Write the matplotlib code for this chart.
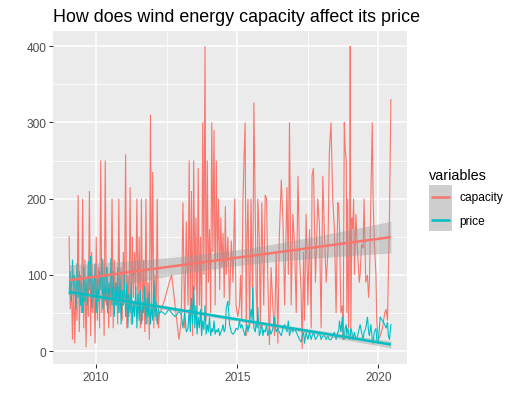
import numpy as np
import matplotlib
matplotlib.use('Agg')
import matplotlib.pyplot as plt
from matplotlib.patches import Rectangle
from matplotlib.lines import Line2D

# ---------------- data ----------------
dates = [
    2009.05, 2009.09, 2009.13, 2009.17, 2009.21, 2009.25, 2009.29, 2009.33, 2009.37, 2009.41,
    2009.45, 2009.49, 2009.53, 2009.57, 2009.61, 2009.65, 2009.69, 2009.73, 2009.77, 2009.81,
    2009.85, 2009.89, 2009.93, 2009.97, 2010.01, 2010.05, 2010.09, 2010.13, 2010.17, 2010.21,
    2010.25, 2010.29, 2010.33, 2010.37, 2010.41, 2010.45, 2010.49, 2010.53, 2010.57, 2010.61,
    2010.65, 2010.69, 2010.73, 2010.77, 2010.81, 2010.85, 2010.89, 2010.93, 2010.97, 2011.01,
    2011.05, 2011.09, 2011.13, 2011.17, 2011.21, 2011.25, 2011.29, 2011.33, 2011.37, 2011.41,
    2011.45, 2011.49, 2011.53, 2011.57, 2011.61, 2011.65, 2011.69, 2011.73, 2011.77, 2011.81,
    2011.85, 2011.89, 2011.93, 2011.97, 2012.01, 2012.05, 2012.09, 2012.13, 2012.17, 2012.21,
    2012.25,
    2012.32, 2012.45, 2012.58, 2012.68, 2012.80, 2012.94, 2013.02, 2013.08, 2013.14, 2013.20,
    2013.26, 2013.30, 2013.34, 2013.38, 2013.42, 2013.46, 2013.50, 2013.54, 2013.58, 2013.62,
    2013.66, 2013.70, 2013.74, 2013.78, 2013.82, 2013.86, 2013.90, 2013.94, 2013.98, 2014.02,
    2014.06, 2014.10, 2014.14, 2014.18, 2014.22, 2014.26, 2014.30, 2014.34, 2014.38, 2014.42,
    2014.46, 2014.50, 2014.54, 2014.58,
    2014.61, 2014.67, 2014.73, 2014.79, 2014.85, 2014.91, 2014.96, 2015.02, 2015.08, 2015.12,
    2015.16, 2015.20, 2015.24, 2015.28, 2015.32, 2015.35, 2015.38, 2015.44, 2015.49, 2015.53,
    2015.55, 2015.59, 2015.64, 2015.67, 2015.71, 2015.73, 2015.78, 2015.82, 2015.87, 2015.91,
    2015.94, 2015.99, 2016.04, 2016.08, 2016.12, 2016.14, 2016.20, 2016.26, 2016.32, 2016.38,
    2016.44, 2016.49,
    2016.56, 2016.62, 2016.68, 2016.76, 2016.81, 2016.85, 2016.91, 2016.97, 2017.03, 2017.09,
    2017.15, 2017.21, 2017.26, 2017.30, 2017.35, 2017.38, 2017.44, 2017.50, 2017.56, 2017.62,
    2017.65, 2017.70, 2017.77, 2017.85, 2017.91, 2017.97, 2018.03, 2018.09, 2018.15, 2018.21,
    2018.26, 2018.32, 2018.38, 2018.44, 2018.50, 2018.56,
    2018.59, 2018.62, 2018.67, 2018.72, 2018.75, 2018.79, 2018.82, 2018.86, 2018.88, 2018.91,
    2018.94, 2018.98, 2019.00, 2019.02, 2019.06, 2019.09, 2019.12, 2019.15, 2019.20, 2019.26,
    2019.32, 2019.35, 2019.40, 2019.46, 2019.49, 2019.55, 2019.61, 2019.65, 2019.68, 2019.73,
    2019.78, 2019.81, 2019.85, 2019.91, 2019.94, 2019.99, 2020.06, 2020.14, 2020.22, 2020.27,
    2020.32, 2020.35, 2020.39, 2020.44,
]

capacity = [
    150, 55, 90, 15, 100, 10, 80, 40, 205, 25,
    100, 50, 200, 30, 120, 5, 90, 45, 210, 20,
    130, 50, 90, 10, 150, 40, 110, 30, 250, 50,
    120, 20, 250, 60, 110, 30, 90, 45, 200, 30,
    120, 60, 90, 35, 200, 50, 110, 40, 130, 70,
    258, 30, 100, 45, 215, 35, 150, 70, 130, 80,
    200, 50, 150, 30, 200, 40, 120, 25, 200, 35,
    90, 15, 310, 50, 235, 30, 100, 40, 200, 30,
    50,
    55, 70, 88, 100, 60, 15, 40, 195, 30, 170,
    60, 250, 45, 210, 20, 250, 80, 175, 30, 240,
    60, 150, 25, 300, 100, 400, 40, 250, 90, 160,
    50, 300, 130, 290, 60, 250, 120, 200, 80, 175,
    110, 155, 70, 190,
    100, 150, 60, 145, 90, 200, 60, 45, 60, 100,
    40, 190, 250, 300, 20, 150, 200, 30, 200, 100,
    60, 326, 180, 80, 40, 200, 150, 30, 195, 120,
    60, 205, 200, 100, 40, 8, 110, 60, 20, 130,
    10, 150,
    225, 170, 60, 215, 100, 300, 60, 180, 140, 50,
    230, 120, 80, 3, 130, 40, 180, 60, 160, 30,
    230, 240, 90, 200, 165, 30, 230, 150, 90, 130,
    260, 300, 200, 160, 50, 195,
    190, 160, 50, 60, 15, 300, 265, 250, 50, 200,
    30, 150, 400, 20, 175, 160, 200, 100, 180, 130,
    90, 100, 140, 135, 200, 90, 100, 70, 90, 200,
    300, 200, 145, 100, 40, 15, 20, 30, 50, 55,
    40, 100, 180, 330,
]

price = [
    75, 105, 65, 120, 80, 100, 55, 115, 70, 105,
    60, 90, 50, 110, 65, 95, 60, 118, 80, 125,
    55, 100, 70, 115, 50, 95, 65, 105, 80, 122,
    55, 100, 65, 110, 50, 90, 70, 122, 60, 105,
    45, 90, 60, 110, 50, 95, 35, 80, 60, 100,
    45, 90, 30, 75, 50, 90, 35, 65, 45, 85,
    30, 75, 40, 80, 35, 65, 50, 85, 35, 70,
    45, 78, 35, 60, 40, 93, 45, 65, 35, 55,
    50,
    52, 48, 55, 50, 45, 52, 48, 30, 50, 25,
    30, 55, 25, 70, 35, 86, 30, 60, 22, 45,
    30, 55, 20, 40, 28, 60, 22, 35, 25, 45,
    20, 30, 25, 40, 22, 28, 25, 30, 20, 25,
    28, 35, 25, 30,
    55, 66, 35, 25, 22, 25, 30, 28, 40, 30,
    35, 30, 25, 20, 30, 35, 25, 40, 55, 40,
    84, 30, 25, 40, 30, 58, 20, 25, 35, 20,
    28, 25, 35, 20, 25, 30, 22, 30, 45, 25,
    30, 25,
    20, 30, 35, 25, 40, 20, 30, 25, 30, 25,
    20, 15, 12, 20, 25, 10, 25, 15, 25, 15,
    20, 25, 15, 20, 25, 15, 20, 20, 15, 20,
    15, 15, 20, 25, 15, 25,
    25, 40, 25, 45, 20, 15, 30, 35, 20, 30,
    25, 15, 20, 30, 25, 15, 20, 25, 15, 20,
    30, 35, 25, 15, 25, 30, 45, 25, 20, 35,
    15, 10, 25, 30, 15, 10, 45, 40, 35, 30,
    38, 20, 15, 35,
]

series_names = ['capacity', 'price']
series_colors = ['#F8766D', '#00BFC4']
x_ticks = [2010, 2015, 2020]
x_minor = [2012.5, 2017.5]
y_ticks = [0, 100, 200, 300, 400]
y_minor = [50, 150, 250, 350]
title = "How does wind energy capacity affect its price"
legend_title = "variables"

# ---------------- style ----------------
plt.rcParams['font.family'] = ['Liberation Sans', 'DejaVu Sans']

W, H = 516, 410
fig = plt.figure(figsize=(W / 100, H / 100), dpi=100)
L, R, T, B = 53, 407, 32, 365
ax = fig.add_axes([L / W, 1 - B / H, (R - L) / W, (B - T) / H])
ax.set_facecolor('#EBEBEB')
for s in ax.spines.values():
    s.set_visible(False)

x = np.array(dates, dtype=float)
series = [np.array(capacity, dtype=float), np.array(price, dtype=float)]


def lm_band(xv, yv, xs):
    n = len(xv)
    xc = xv - xv.mean()
    b, a = np.polyfit(xc, yv, 1)
    res = yv - (a + b * xc)
    s = np.sqrt(np.sum(res ** 2) / (n - 2))
    sxx = np.sum(xc ** 2)
    xsc = xs - xv.mean()
    fit = a + b * xsc
    se = s * np.sqrt(1.0 / n + xsc ** 2 / sxx)
    t = 1.9697
    return fit, fit - t * se, fit + t * se


xs = np.linspace(x.min(), x.max(), 80)

# raw lines
for yv, col in zip(series, series_colors):
    ax.plot(x, yv, color=col, lw=0.8, zorder=2, solid_joinstyle='miter')

# smooth
lo_all, hi_all = [], []
for yv, col in zip(series, series_colors):
    fit, lo, hi = lm_band(x, yv, xs)
    ax.fill_between(xs, lo, hi, color='#999999', alpha=0.4, lw=0, zorder=3)
    ax.plot(xs, fit, color=col, lw=1.8, zorder=4, solid_capstyle='butt')
    lo_all.append(lo.min())
    hi_all.append(hi.max())

ymin = min(min(capacity), min(price), *lo_all)
ymax = max(max(capacity), max(price), *hi_all)
yr = ymax - ymin
ax.set_ylim(ymin - 0.05 * yr, ymax + 0.05 * yr)
xr = x.max() - x.min()
ax.set_xlim(x.min() - 0.05 * xr, x.max() + 0.05 * xr)

ax.set_xticks(x_ticks)
ax.set_xticklabels([str(v) for v in x_ticks])
ax.set_yticks(y_ticks)
ax.set_yticklabels([str(v) for v in y_ticks])
ax.set_xticks(x_minor, minor=True)
ax.set_yticks(y_minor, minor=True)
ax.set_axisbelow(True)
ax.grid(which='major', color='white', lw=1.1, zorder=0)
ax.grid(which='minor', color='white', lw=0.55, zorder=0)
ax.tick_params(which='major', length=2.7, width=0.75, color='#333333',
               labelsize=8.6, labelcolor='#4D4D4D', pad=2)
ax.tick_params(which='minor', length=0)

# title
fig.text(L / W, 1 - 21.5 / H, title, fontsize=12.9, ha='left', va='baseline', color='black')

# legend (manual, ggplot style)
fig.text(429 / W, 1 - 180 / H, legend_title, fontsize=10.4, ha='left', va='baseline', color='black')
key_x0, key_x1 = 429, 452
key_top, key_h = 186, 23
label_base = [201.5, 224.5]
for i, (name, col) in enumerate(zip(series_names, series_colors)):
    y0 = key_top + i * key_h
    fig.patches.append(Rectangle((key_x0 / W, 1 - (y0 + key_h) / H), (key_x1 - key_x0) / W, key_h / H,
                                 transform=fig.transFigure, facecolor='#F2F2F2', edgecolor='none'))
    fig.patches.append(Rectangle((key_x0 / W, 1 - (y0 + key_h) / H), (key_x1 - key_x0) / W, key_h / H,
                                 transform=fig.transFigure, facecolor='#999999', alpha=0.4, edgecolor='none'))
    yc = y0 + key_h / 2
    fig.lines.append(Line2D([431 / W, 450 / W], [1 - yc / H, 1 - yc / H], transform=fig.transFigure,
                            color=col, lw=1.8, solid_capstyle='butt'))
    fig.text(459 / W, 1 - label_base[i] / H, name, fontsize=8.6, ha='left', va='baseline', color='black')

fig.savefig('out.png', dpi=100)
